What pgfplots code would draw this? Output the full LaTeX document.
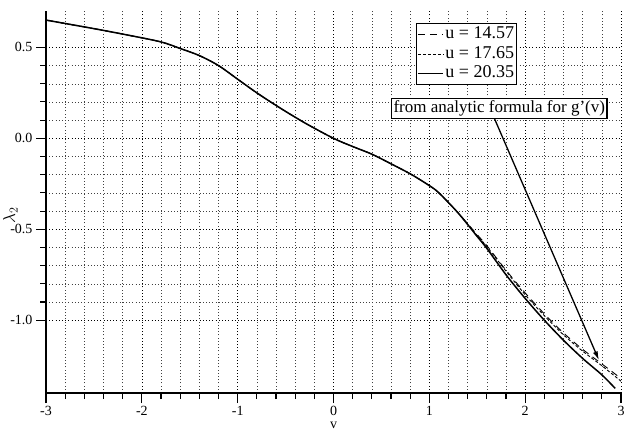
\documentclass[border=0pt]{standalone}
\usepackage{fontspec}
\setmainfont{Liberation Serif}
\usepackage{pgfplots}
\pgfplotsset{compat=1.18}
\usetikzlibrary{arrows.meta}

\begin{document}
\begin{tikzpicture}
\begin{axis}[
  scale only axis,
  width=575pt, height=382pt,
  xmin=-3, xmax=3,
  ymin=-1.4, ymax=0.7,
  xtick={-3,-2,-1,0,1,2,3},
  ytick={-1.0,-0.5,0.0,0.5},
  minor x tick num=4,
  minor y tick num=4,
  yticklabel style={/pgf/number format/.cd,fixed,fixed zerofill,precision=1},
  /pgf/number format/assume math mode=true,
  tick label style={font=\fontsize{14}{16}\selectfont},
  axis lines=left,
  axis line style={-, line width=1.3pt},
  tick align=outside,
  major tick length=10pt,
  minor tick length=6pt,
  tick style={black, line width=1.1pt},
  grid=both,
  major grid style={black, line width=0.6pt, dash pattern=on 1pt off 2.2pt},
  minor grid style={black!75, line width=0.5pt, dash pattern=on 1pt off 2.2pt},
  xlabel={v},
  xlabel style={at={(axis description cs:0.5,-0.085)}, anchor=center, font=\fontsize{14}{16}\selectfont},
  ylabel={$\lambda_2$},
  ylabel style={at={(axis description cs:-0.062,0.466)}, anchor=center, font=\fontsize{17}{18}\selectfont},
  legend style={at={(axis description cs:0.643,0.968)}, anchor=north west,
    draw=black, line width=1.2pt, fill=white, inner sep=1pt,
    font=\fontsize{18}{20}\selectfont, row sep=0pt,
    nodes={inner sep=1.5pt, text height=12.5pt, text depth=4pt}},
  legend cell align=left,
  legend image post style={line width=1pt},
  legend image code/.code={\draw[#1] (0cm,0cm) -- (0.9cm,0cm);},
]
% u = 14.57
\addplot[black, line width=0.9pt, smooth, dash pattern=on 7pt off 5pt] coordinates {
  (-3,0.65) (-2.5,0.603) (-2.14,0.567) (-1.8,0.53) (-1.6,0.494) (-1.4,0.455)
  (-1.2,0.40) (-1.0,0.325) (-0.8,0.25) (-0.57,0.171) (-0.3,0.085) (0,0)
  (0.2,-0.045) (0.4,-0.087) (0.6,-0.14) (0.81,-0.198) (1.0,-0.26) (1.1,-0.30)
  (1.3,-0.41) (1.5,-0.53) (1.6,-0.59) (1.8,-0.725) (2.0,-0.85) (2.2,-0.965)
  (2.4,-1.07) (2.6,-1.16) (2.8,-1.24) (3.0,-1.32)
};
\addlegendentry{u = 14.57}
% u = 17.65
\addplot[black, line width=0.9pt, smooth, dash pattern=on 3pt off 2pt] coordinates {
  (-3,0.65) (-2.5,0.603) (-2.14,0.567) (-1.8,0.53) (-1.6,0.494) (-1.4,0.455)
  (-1.2,0.40) (-1.0,0.325) (-0.8,0.25) (-0.57,0.171) (-0.3,0.085) (0,0)
  (0.2,-0.045) (0.4,-0.087) (0.6,-0.14) (0.81,-0.198) (1.0,-0.26) (1.1,-0.30)
  (1.3,-0.41) (1.5,-0.535) (1.6,-0.595) (1.8,-0.73) (2.0,-0.86) (2.2,-0.975)
  (2.4,-1.08) (2.6,-1.17) (2.8,-1.25) (3.0,-1.335)
};
\addlegendentry{u = 17.65}
% u = 20.35
\addplot[black, line width=1.5pt, smooth] coordinates {
  (-3,0.65) (-2.5,0.603) (-2.14,0.567) (-1.8,0.53) (-1.6,0.494) (-1.4,0.455)
  (-1.2,0.40) (-1.0,0.325) (-0.8,0.25) (-0.57,0.171) (-0.3,0.085) (0,0)
  (0.2,-0.045) (0.4,-0.087) (0.6,-0.14) (0.81,-0.198) (1.0,-0.26) (1.1,-0.30)
  (1.3,-0.41) (1.5,-0.54) (1.6,-0.605) (1.8,-0.75) (2.0,-0.88) (2.2,-1.0)
  (2.4,-1.11) (2.6,-1.21) (2.8,-1.30) (2.94,-1.375)
};
\addlegendentry{u = 20.35}

\draw[-{Latex[length=9pt,width=5pt]}, line width=1.3pt] (axis cs:1.68,0.108) -- (axis cs:2.77,-1.22);
\node[draw=black, fill=white, line width=1.2pt, inner sep=2pt,
  font=\fontsize{17}{19}\selectfont] at (axis cs:1.73,0.164) {from analytic formula for g'(v)};
\end{axis}
\pgfresetboundingbox
\path[use as bounding box] ([shift={(-46pt,-43pt)}]current axis.south west)
  rectangle ([shift={(6pt,11pt)}]current axis.north east);
\end{tikzpicture}
\end{document}
